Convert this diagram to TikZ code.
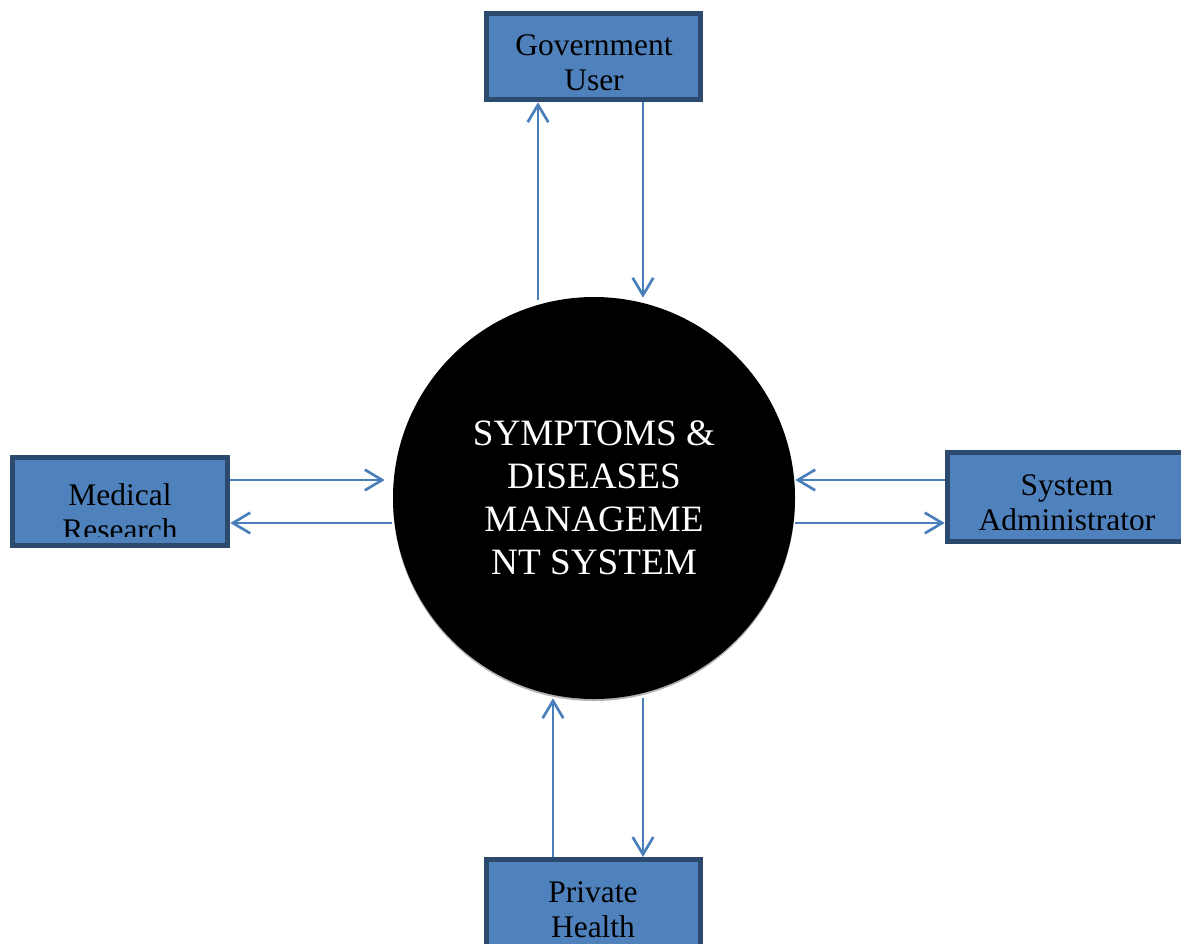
\documentclass[tikz,border=0pt]{standalone}
\usepackage{fontspec}
\setmainfont{Liberation Serif}
\usetikzlibrary{arrows.meta,shadows,calc}
\definecolor{boxblue}{HTML}{4F81BD}
\definecolor{boxedge}{HTML}{2C4A6E}
\definecolor{flowblue}{HTML}{4A7EBB}
\tikzset{
  entity/.style={rectangle, fill=boxblue, draw=none, inner sep=0pt},
  entityedge/.style={draw=boxedge, line width=3.75pt},
  entitytext/.style={align=center, anchor=base, inner sep=0pt,
    font=\fontsize{23.6pt}{26.25pt}\selectfont},
  flow/.style={draw=flowblue, line width=2pt,
    -{Straight Barb[length=13pt,width=15.5pt,line width=2pt]}},
  process/.style={circle, fill=black, text=white, inner sep=0pt,
    minimum size=301.5pt, align=center,
    font=\fontsize{27.9pt}{32.25pt}\selectfont,
    drop shadow={shadow xshift=0pt, shadow yshift=-1.5pt, fill=black, opacity=0.3}}
}
\begin{document}
\begin{tikzpicture}[x=0.75pt,y=-0.75pt]
\clip (0,0) rectangle (1181,943);

% central process
\node[process] (circ) at (594,498) {SYMPTOMS \&\\DISEASES\\MANAGEME\\NT SYSTEM};

% external entities: fill, text (placed by the baseline of its last line), then the outline on top
\node[entity, minimum width=160.5pt, minimum height=64.5pt] (gov) at (593.5,56.5) {};
\node[entitytext] (govtext) at (594,90) {Government\\User};
\draw[entityedge] (gov.south west) rectangle (gov.north east);

\node[entity, minimum width=161.25pt, minimum height=66pt] (med) at (120,501.5) {};
\begin{scope}
  \clip (10,455) rectangle (230,536);
  \node[entitytext] (medtext) at (120,540) {Medical\\Research};
\end{scope}
\draw[entityedge] (med.south west) rectangle (med.north east);

\node[entity, minimum width=181.875pt, minimum height=66.75pt] (sys) at (1068.75,497) {};
\begin{scope}
  \clip (945,450) rectangle (1181,529);
  \node[entitytext] (systext) at (1067,530) {System\\Administrator};
\end{scope}
\draw[entityedge] (sys.south west) rectangle (sys.north east);

\node[entity, minimum width=160.5pt, minimum height=75.4pt] (priv) at (593.5,910) {};
\node[entitytext] (privtext) at (593,937) {Private\\Health};
\draw[entityedge] (priv.south west) rectangle (priv.north east);

% data flows
\draw[flow] ($(circ.north)+(-56,3)$) -- ($(gov.south)+(-55.5,2.5)$);
\draw[flow] ($(gov.south)+(49.5,2.5)$) -- ($(circ.north)+(49,1)$);

\draw[flow] ($(med.east)+(2.5,-21.5)$) -- ($(circ.west)+(-8,-18)$);
\draw[flow] ($(circ.west)+(-1,25)$) -- ($(med.east)+(2.5,21.5)$);

\draw[flow] ($(sys.west)+(-2.5,-17)$) -- ($(circ.east)+(0,-18)$);
\draw[flow] ($(circ.east)+(0,25)$) -- ($(sys.west)+(-2.5,26)$);

\draw[flow] ($(priv.north)+(-40.5,-2.5)$) -- ($(circ.south)+(-41,-1)$);
\draw[flow] ($(circ.south)+(49,-1)$) -- ($(priv.north)+(49.5,-2.5)$);
\end{tikzpicture}
\end{document}
